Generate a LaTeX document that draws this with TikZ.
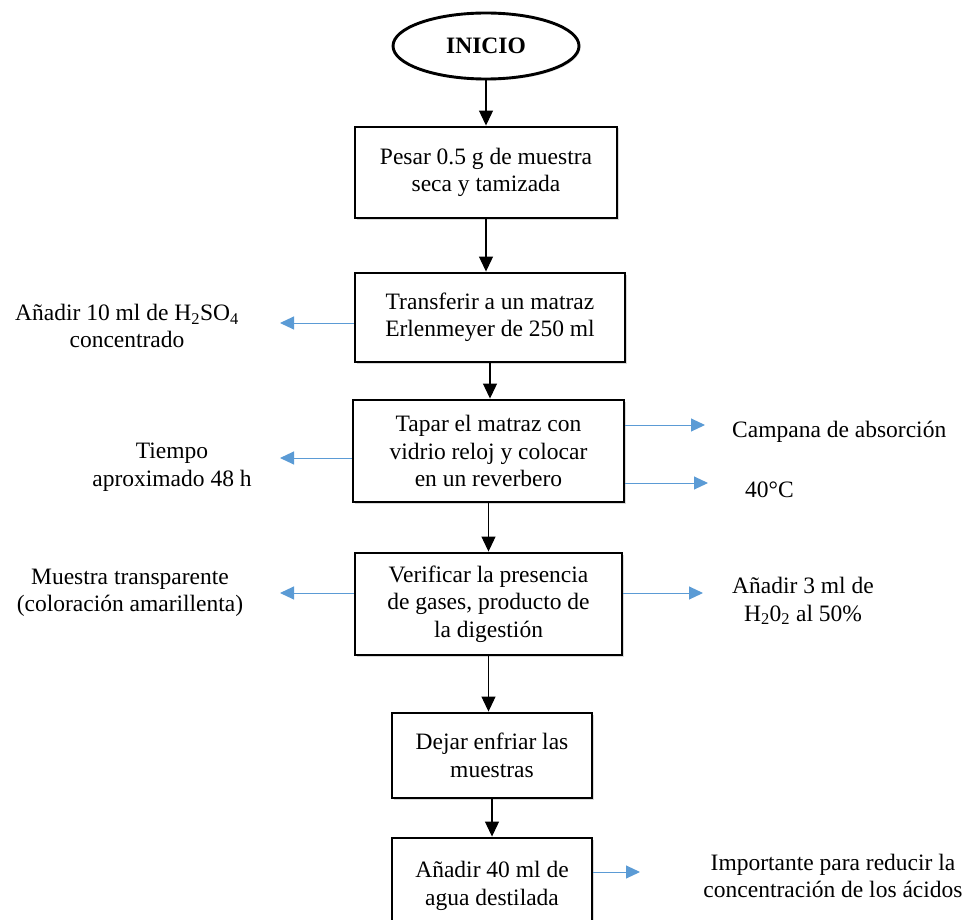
\documentclass[tikz,border=0pt]{standalone}
\usepackage{fontspec}
\setmainfont{Liberation Serif}
\usetikzlibrary{arrows.meta,shapes.geometric,shadows}
\definecolor{sideblue}{RGB}{91,155,213}
\begin{document}
\begin{tikzpicture}[x=1pt,y=-1pt,
  every node/.style={font=\fontsize{23.5}{27.5}\selectfont},
  box/.style={draw, line width=2.9pt, fill=white, align=center, inner sep=0pt,
    drop shadow={opacity=0.3,shadow xshift=1.5pt,shadow yshift=-1.5pt}},
  lbl/.style={align=center, inner sep=0pt},
  flow/.style={-{Triangle[length=15pt,width=14pt]}, line width=1.1pt},
  side/.style={-{Triangle[length=14pt,width=13pt]}, line width=1pt, draw=sideblue, color=sideblue}]
\path[use as bounding box, clip] (0,0) rectangle (971,920);

% main column
\node[ellipse, draw, line width=2.9pt, fill=white, minimum width=186pt, minimum height=66pt,
  font=\fontsize{23.5}{27.5}\selectfont\bfseries,
  drop shadow={opacity=0.3,shadow xshift=1.5pt,shadow yshift=-1.5pt}] (ini) at (486,46) {INICIO};
\node[box, minimum width=262pt, minimum height=91pt] (b1) at (486,172.5) {Pesar 0.5 g de muestra\\seca y tamizada};
\node[box, minimum width=270pt, minimum height=89pt] (b2) at (490,317.5) {Transferir a un matraz\\Erlenmeyer de 250 ml};
\node[box, minimum width=271pt, minimum height=102pt] (b3) at (488.5,451) {Tapar el matraz con\\vidrio reloj y colocar\\en un reverbero};
\node[box, minimum width=267pt, minimum height=102pt] (b4) at (488.5,604) {Verificar la presencia\\de gases, producto de\\la digestión};
\node[box, minimum width=200pt, minimum height=85pt] (b5) at (492,755.5) {Dejar enfriar las\\muestras};
\node[box, minimum width=200pt, minimum height=96pt] (b6) at (492,886) {Añadir 40 ml de\\agua destilada};

\draw[flow] (ini.south) -- (ini.south |- b1.north);
\draw[flow] (b1.south) -- (b1.south |- b2.north);
\draw[flow] (b2.south) -- (b2.south |- b3.north);
\draw[flow] (b3.south) -- (b3.south |- b4.north);
\draw[flow] (b4.south) -- (b4.south |- b5.north);
\draw[flow] (b5.south) -- (b5.south |- b6.north);

% side texts
\node[lbl] (t2) at (127,326) {Añadir 10 ml de H\textsubscript{2}SO\textsubscript{4}\\concentrado};
\node[lbl] (t3l) at (172,467) {Tiempo\\aproximado 48 h};
\node[lbl, anchor=west] (t3a) at (732,432) {Campana de absorción};
\node[lbl, anchor=west] (t3b) at (745,490) {40°C};
\node[lbl] (t4l) at (130,593) {Muestra transparente\\(coloración amarillenta)};
\node[lbl] (t4r) at (803,601) {Añadir 3 ml de\\H\textsubscript{2}0\textsubscript{2} al 50\%};
\node[lbl] (t6) at (833,876) {Importante para reducir la\\concentración de los ácidos};

% side arrows
\coordinate (e2) at (280,323);
\coordinate (e3l) at (280,458);
\coordinate (e3a) at (705,425);
\coordinate (e3b) at (708,483);
\coordinate (e4l) at (280,593);
\coordinate (e4r) at (703,593);
\coordinate (e6) at (640,872);
\draw[side] (b2.west |- e2) -- (e2);
\draw[side] (b3.west |- e3l) -- (e3l);
\draw[side] (b3.east |- e3a) -- (e3a);
\draw[side] (b3.east |- e3b) -- (e3b);
\draw[side] (b4.west |- e4l) -- (e4l);
\draw[side] (b4.east |- e4r) -- (e4r);
\draw[side] (b6.east |- e6) -- (e6);
\end{tikzpicture}
\end{document}
